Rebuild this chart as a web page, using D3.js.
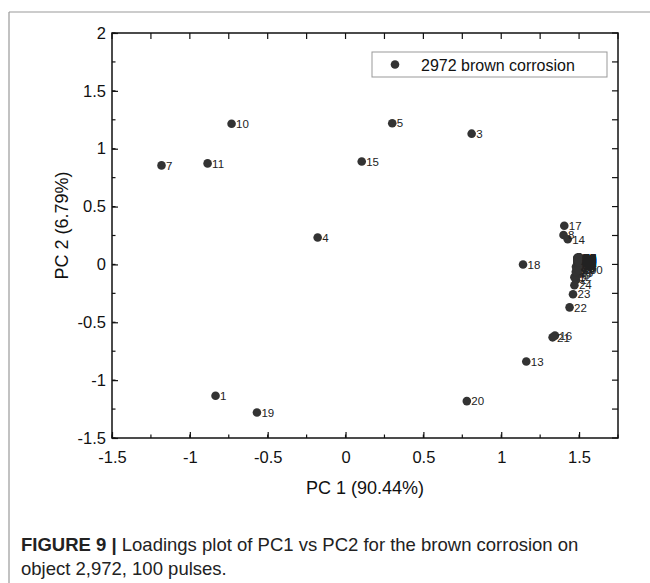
<!DOCTYPE html>
<html>
<head>
<meta charset="utf-8">
<script src="https://cdn.jsdelivr.net/npm/d3@7"></script>
<style>
  body { margin: 0; background: #fff; }
  svg text { font-family: "Liberation Sans", Arial, sans-serif; }
</style>
</head>
<body>
<div id="chart"></div>
<script>
// scattered loadings (pulse number, PC1, PC2)
var pulseIds = [1, 3, 4, 5, 7, 8, 10, 11, 13, 14, 15, 16, 17, 18, 19, 20, 21, 22, 23];
var pc1 = [-0.835, 0.81, -0.179, 0.30, -1.182, 1.40, -0.732, -0.886, 1.161, 1.427, 0.104, 1.345, 1.405, 1.14, -0.569, 0.779, 1.33, 1.439, 1.461];
var pc2 = [-1.135, 1.13, 0.233, 1.22, 0.856, 0.254, 1.216, 0.873, -0.839, 0.217, 0.89, -0.615, 0.334, 0.0, -1.279, -1.181, -0.63, -0.371, -0.258];

// dense group near PC1 = 1.5
var clusterIds = [2, 6, 9, 12, 24,
  25, 26, 27, 28, 29, 30, 31, 32, 33, 34,
  35, 36, 37, 38, 39, 40, 41, 42, 43, 44,
  45, 46, 47, 48, 49, 50, 51, 52, 53, 54,
  55, 56, 57, 58, 59, 60, 61, 62, 63, 64,
  65, 66, 67, 68, 69, 70, 71, 72, 73, 74,
  75, 76, 77, 78, 79, 80, 81, 82, 83, 84,
  85, 86, 87, 88, 89, 90, 91, 92, 93, 94,
  95, 96, 97, 98, 99, 100];
var clusterPc1 = [1.48, 1.49, 1.49, 1.47, 1.47,
  1.48, 1.49, 1.48, 1.49, 1.49, 1.48, 1.49, 1.50, 1.49, 1.49,
  1.50, 1.49, 1.50, 1.49, 1.50, 1.50, 1.49, 1.50, 1.50, 1.49,
  1.50, 1.50, 1.49, 1.50, 1.50, 1.50, 1.49, 1.50, 1.50, 1.50,
  1.50, 1.49, 1.50, 1.50, 1.50, 1.50, 1.49, 1.50, 1.50, 1.50,
  1.50, 1.50, 1.49, 1.50, 1.50, 1.50, 1.50, 1.49, 1.50, 1.50,
  1.50, 1.50, 1.50, 1.49, 1.50, 1.50, 1.50, 1.50, 1.49, 1.50,
  1.50, 1.50, 1.50, 1.50, 1.49, 1.50, 1.50, 1.50, 1.50, 1.50,
  1.50, 1.50, 1.49, 1.50, 1.50, 1.50];
var clusterPc2 = [-0.135, -0.09, 0.05, -0.11, -0.18,
  -0.07, -0.05, -0.06, -0.03, -0.04, -0.02, 0.00, -0.01, 0.02, 0.01,
  0.03, 0.04, 0.02, 0.05, 0.01, 0.04, 0.03, 0.05, 0.00, 0.02,
  0.06, 0.03, 0.01, 0.04, 0.05, -0.01, 0.06, 0.02, 0.03, 0.05,
  0.04, 0.00, 0.06, 0.01, 0.03, 0.05, 0.04, 0.02, 0.06, 0.00,
  0.03, 0.05, 0.02, 0.04, 0.01, 0.06, 0.03, 0.05, 0.04, -0.02,
  0.02, 0.05, 0.00, 0.03, 0.06, 0.04, 0.01, 0.03, 0.05, 0.02,
  0.04, 0.06, 0.03, 0.01, 0.05, 0.02, 0.04, 0.06, -0.03, 0.03,
  0.05, 0.01, 0.04, 0.06, 0.02, -0.05];

var xTicks = [-1.5, -1, -0.5, 0, 0.5, 1, 1.5];
var yTicks = [-1.5, -1, -0.5, 0, 0.5, 1, 1.5, 2];
var seriesName = "2972 brown corrosion";

var width = 650, height = 583;
var margins = { top: 33, right: 32, bottom: 145, left: 112 };
var plotW = width - margins.left - margins.right;
var plotH = height - margins.top - margins.bottom;

var svg = d3.select('#chart').append('svg')
    .attr('width', width)
    .attr('height', height);

// frame of the figure panel
svg.append('line').attr('x1', 9).attr('x2', 9).attr('y1', 12).attr('y2', height)
    .attr('stroke', '#999').attr('stroke-width', 1.2);
svg.append('line').attr('x1', 9).attr('x2', width).attr('y1', 12).attr('y2', 12)
    .attr('stroke', '#999').attr('stroke-width', 1.2);

var xScale = d3.scaleLinear().domain([-1.5, 1.75]).range([0, plotW]);
var yScale = d3.scaleLinear().domain([-1.5, 2]).range([plotH, 0]);

var g = svg.append('g').attr('transform', 'translate(' + margins.left + ',' + margins.top + ')');

var minorX = d3.range(-1.5, 1.76, 0.25);
var minorY = d3.range(-1.5, 2.01, 0.25);

// plain hyphen minus like the original
var fmt = function (d) { return String(d); };

// axes, ticks pointing inward
var xAxis = d3.axisBottom(xScale).tickValues(xTicks).tickSizeInner(-6).tickSizeOuter(0).tickFormat(fmt);
var yAxis = d3.axisLeft(yScale).tickValues(yTicks).tickSizeInner(-6).tickSizeOuter(0).tickFormat(fmt);

var gx = g.append('g').attr('class', 'xAxis').attr('transform', 'translate(0,' + plotH + ')').call(xAxis);
var gy = g.append('g').attr('class', 'yAxis').call(yAxis);
[gx, gy].forEach(function (a) {
    a.select('.domain').remove();
    a.selectAll('text').style('font-size', '16.5px').attr('fill', '#111');
    a.selectAll('line').attr('stroke', '#111').attr('stroke-width', 1.2);
});
gx.selectAll('text').attr('dy', '1.35em');
gy.selectAll('text').attr('x', -6);

// minor ticks bottom / left, all ticks on top / right
g.selectAll('.mxb').data(minorX).enter().append('line')
    .attr('x1', xScale).attr('x2', xScale).attr('y1', plotH).attr('y2', plotH - 3.5)
    .attr('stroke', '#111').attr('stroke-width', 1.2);
g.selectAll('.myl').data(minorY).enter().append('line')
    .attr('y1', yScale).attr('y2', yScale).attr('x1', 0).attr('x2', 3.5)
    .attr('stroke', '#111').attr('stroke-width', 1.2);
g.selectAll('.mxt').data(minorX).enter().append('line')
    .attr('x1', xScale).attr('x2', xScale).attr('y1', 0).attr('y2', 6)
    .attr('stroke', '#111').attr('stroke-width', 1.2);
g.selectAll('.myr').data(minorY).enter().append('line')
    .attr('y1', yScale).attr('y2', yScale).attr('x1', plotW).attr('x2', plotW - 6)
    .attr('stroke', '#111').attr('stroke-width', 1.2);

g.append('rect').attr('width', plotW).attr('height', plotH)
    .attr('fill', 'none').attr('stroke', '#111').attr('stroke-width', 1.5);

// axis titles
svg.append('text')
    .attr('x', margins.left + plotW / 2).attr('y', 494)
    .attr('text-anchor', 'middle').style('font-size', '18px').attr('fill', '#111')
    .text('PC 1 (90.44%)');
svg.append('text')
    .attr('transform', 'translate(68,' + (margins.top + plotH / 2 - 10) + ') rotate(-90)')
    .attr('text-anchor', 'middle').style('font-size', '18px').attr('fill', '#111')
    .text('PC 2 (6.79%)');

// points
var points = pulseIds.map(function (id, i) { return { id: id, x: pc1[i], y: pc2[i] }; })
    .concat(clusterIds.map(function (id, i) { return { id: id, x: clusterPc1[i], y: clusterPc2[i] }; }));

var items = g.append('g').attr('class', 'items');
items.selectAll('circle').data(points).enter().append('circle')
    .attr('cx', function (d) { return xScale(d.x); })
    .attr('cy', function (d) { return yScale(d.y); })
    .attr('r', 4.3)
    .attr('fill', '#333');
items.selectAll('text').data(points).enter().append('text')
    .attr('x', function (d) { return xScale(d.x) + 4.5; })
    .attr('y', function (d) { return yScale(d.y) + 4.2; })
    .style('font-size', '11.5px').attr('fill', '#222')
    .text(function (d) { return d.id; });

// legend
var legend = svg.append('g').attr('class', 'chart-legend');
legend.append('rect').attr('x', 372).attr('y', 52).attr('width', 235).attr('height', 25)
    .attr('fill', '#fff').attr('stroke', '#999').attr('stroke-width', 1);
legend.append('circle').attr('cx', 395).attr('cy', 64.5).attr('r', 4.3).attr('fill', '#333');
legend.append('text').attr('x', 421).attr('y', 70.5).style('font-size', '16px').attr('fill', '#111')
    .text(seriesName);

// caption
var cap1 = svg.append('text').attr('x', 21).attr('y', 551).style('font-size', '18.5px').attr('fill', '#222');
cap1.append('tspan').style('font-weight', 'bold').text('FIGURE 9 | ');
cap1.append('tspan').text('Loadings plot of PC1 vs PC2 for the brown corrosion on');
svg.append('text').attr('x', 21).attr('y', 575).style('font-size', '18.5px').attr('fill', '#222')
    .text('object 2,972, 100 pulses.');
</script>
</body>
</html>
